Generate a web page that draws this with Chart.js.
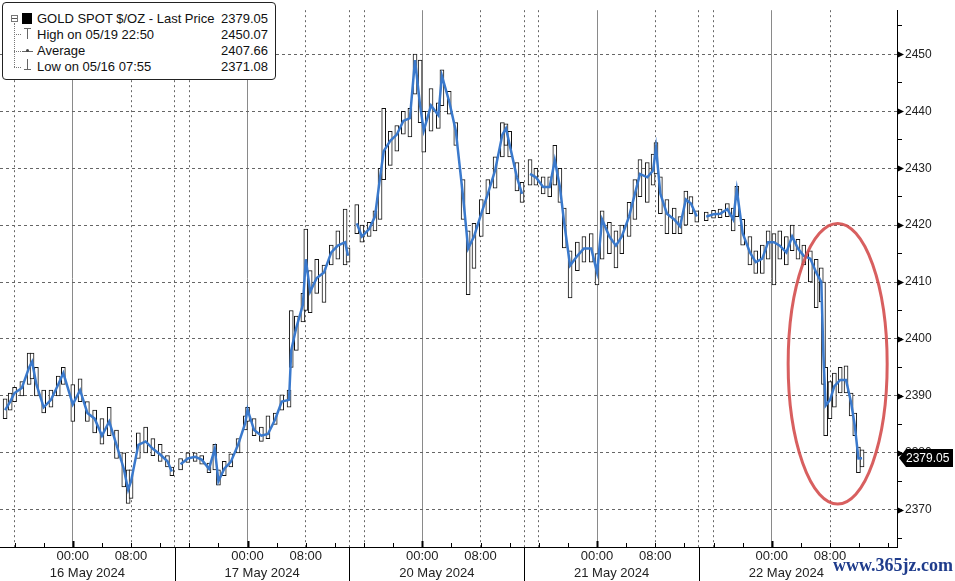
<!DOCTYPE html>
<html lang="en">
<head>
    <meta charset="UTF-8">
    <title>GOLD SPOT $/OZ</title>
    <script src="https://cdn.jsdelivr.net/npm/chart.js"></script>
    <style>
        body { margin: 0; background: #fff; }
        #wrap { position: relative; width: 955px; height: 581px; }
        canvas { display: block; }
        .legend {
            position: absolute; left: 2px; top: 2px; width: 272px; height: 76px;
            border: 1px solid #222; border-radius: 4px; background: #fff;
            font: 13px "Liberation Sans", Arial, sans-serif; color: #111;
        }
        .legend .row { position: absolute; left: 34px; right: 7px; height: 16px; line-height: 16px; }
        .legend .row span { float: right; }
        .legend .abs { position: absolute; }
        .mark {
            position: absolute; left: 833px; top: 555px;
            font: bold 18px "Liberation Serif", serif; color: #1f3c8c;
        }
    </style>
</head>
<body>
<div id="wrap">
    <canvas id="goldChart" width="955" height="581"></canvas>
    <div class="legend">
        <div class="abs" style="left:8px;top:12px;width:5px;height:5px;border:1px solid #777;"></div>
        <div class="abs" style="left:9px;top:15px;width:5px;height:1px;background:#555;"></div>
        <div class="abs" style="left:19px;top:10px;width:10px;height:11px;background:#000;"></div>
        <div class="abs" style="left:11px;top:20px;width:0;height:44px;border-left:1px dotted #777;"></div>
        <div class="abs" style="left:11px;top:31px;width:7px;border-top:1px dotted #777;"></div>
        <div class="abs" style="left:11px;top:48px;width:7px;border-top:1px dotted #777;"></div>
        <div class="abs" style="left:11px;top:64px;width:7px;border-top:1px dotted #777;"></div>
        <div class="abs" style="left:21px;top:25px;width:7px;height:1px;background:#666;"></div>
        <div class="abs" style="left:24px;top:25px;width:1px;height:11px;background:#666;"></div>
        <div class="abs" style="left:19px;top:48px;width:11px;height:1px;background:#666;"></div>
        <div class="abs" style="left:23px;top:46px;width:3px;height:3px;border-radius:2px;background:#444;"></div>
        <div class="abs" style="left:24px;top:56px;width:1px;height:11px;background:#666;"></div>
        <div class="abs" style="left:21px;top:66px;width:7px;height:1px;background:#666;"></div>
        <div class="row" style="top:8px">GOLD SPOT $/OZ - Last Price<span>2379.05</span></div>
        <div class="row" style="top:24px">High on 05/19 22:50<span>2450.07</span></div>
        <div class="row" style="top:40px">Average<span>2407.66</span></div>
        <div class="row" style="top:56px">Low on 05/16 07:55<span>2371.08</span></div>
    </div>
    <div class="mark">www.365jz.com</div>
</div>
<script>
    /* hours counted from the start of the 16 May session */
    const hours = [
        0.7, 1.4, 2, 3, 4, 4.4, 5, 6, 7, 8, 8.7, 10, 11, 12, 13, 14, 15, 16, 17, 17.6, 18, 19, 20, 21, 22, 23, 23.6,
        24.8, 25.8, 26.8, 27.7, 28.7, 29.5, 30, 30.8, 31.7, 32.7, 33.7, 34, 34.9, 35.9, 36.8, 37.8, 38.7, 39.7, 40, 40.7, 41.6, 42, 42.6, 43.5, 44.5, 45.5, 46.4, 47.4, 47.8,
        49, 49.7, 50.7, 51.5, 52.2, 52.7, 53.6, 54.5, 55.4, 56.3, 57, 57.7, 58.2, 59.2, 60.2, 60.7, 61.7, 62.6, 63.6, 64.3, 65.1, 66.1, 67, 68, 69, 69.5, 70, 71, 71.7,
        72.8, 73.6, 74.6, 75.5, 76.2, 76.9, 77.5, 78.3, 79.3, 80.2, 81.2, 82, 82.7, 83.7, 84.6, 85.4, 86.4, 87.2, 87.9, 88.9, 89.7, 90.1, 90.7, 91.6, 92.6, 93.4, 94.2, 94.9, 95.7,
        97, 98, 98.9, 99.9, 100.7, 101.2, 102, 103, 103.8, 104.7, 105.5, 106.3, 107.1, 108, 108.8, 109.6, 110.4, 111.3, 112.1, 112.8, 113.1, 113.4, 114, 114.6, 115.4, 116.2, 116.9, 117.4, 117.9, 118.4
    ];
    const closes = [
        2387.5, 2389, 2390.5, 2391.4, 2395, 2396, 2392, 2388, 2389.3, 2392, 2394, 2388.5, 2391, 2387, 2386, 2383, 2385.5, 2381.4, 2377.2, 2373.5, 2375, 2381.4, 2382, 2380.7, 2379.7, 2378.5, 2376.7,
        2378, 2379, 2379.3, 2378.8, 2377.2, 2380.7, 2375, 2377.2, 2378.4, 2381.4, 2385.3, 2387.6, 2384, 2383, 2383.3, 2385.9, 2389, 2389.3, 2398, 2402, 2406, 2414, 2408.3, 2410.7, 2411.7, 2415.2, 2416.4, 2417, 2414.6,
        2420.3, 2418, 2419.3, 2421.5, 2428.4, 2433, 2434.8, 2435.9, 2438.3, 2438.8, 2449, 2441, 2436.6, 2441, 2439.3, 2446.2, 2441.7, 2436.6, 2425, 2415.9, 2418, 2422, 2425.5, 2429.6, 2435.9, 2437, 2434.1, 2428.4, 2425.5,
        2429, 2428.4, 2426.7, 2426.7, 2431.4, 2426.7, 2420.3, 2412.9, 2414.6, 2415.9, 2415.9, 2411.7, 2421, 2418, 2416.4, 2418, 2421.5, 2425.5, 2429, 2428.4, 2429.6, 2433.6, 2425.5, 2422, 2421, 2419.8, 2424.5, 2423.8, 2421.5,
        2421.5, 2421.9, 2422, 2422.8, 2421, 2426.2, 2418.6, 2415.2, 2413.5, 2414.1, 2417, 2417, 2416.4, 2415.2, 2418, 2415.9, 2414.6, 2414.1, 2411.7, 2410, 2397, 2388.3, 2389.3, 2391.7, 2392.8, 2392.8, 2388.8, 2384.8, 2379, 2379.05
    ];
    const lows = [
        2386, 2387.5, 2389, 2390, 2392, 2393, 2390, 2387, 2388, 2390, 2392, 2385.5, 2389, 2385.5, 2383.5, 2381.5, 2383, 2379, 2374, 2371.1, 2372, 2379, 2380, 2379.5, 2378.5, 2377.5, 2376,
        2377, 2378.3, 2378.5, 2378, 2376.5, 2377, 2374.3, 2376, 2377.5, 2380, 2384, 2385.5, 2383, 2382, 2382.5, 2385, 2387.5, 2388, 2395, 2398, 2403, 2405, 2404.6, 2408, 2406.4, 2413, 2414, 2413, 2413.5,
        2418.5, 2417, 2418, 2419, 2421, 2428, 2430.5, 2433, 2436, 2435.5, 2443, 2438, 2432.8, 2436.5, 2437, 2441, 2439.5, 2434, 2421, 2407.8, 2412.4, 2418, 2422, 2426.5, 2432, 2434, 2432, 2426, 2424,
        2427, 2427, 2425.5, 2425, 2427, 2424, 2416, 2407.2, 2412, 2413.5, 2413.5, 2409.5, 2414, 2415, 2412.5, 2415, 2418, 2421, 2425, 2424, 2427, 2429, 2422, 2418.5, 2418.5, 2418.5, 2420, 2422, 2420.5,
        2420.8, 2421.2, 2421.3, 2421.5, 2419, 2421.5, 2416.5, 2413, 2411.5, 2411.5, 2414, 2409.5, 2414, 2413, 2415.5, 2414, 2413, 2410, 2405.5, 2406.5, 2392, 2383, 2386, 2388, 2390.5, 2390.5, 2386.5, 2383, 2376.5, 2377.5
    ];
    const highs = [
        2389.5, 2390.5, 2391.5, 2392.5, 2397.5, 2397.5, 2395, 2391, 2391, 2393.5, 2395, 2392, 2393, 2389, 2387.5, 2386, 2388, 2384, 2380, 2377, 2377, 2383.5, 2384.5, 2382.5, 2381.5, 2379.5, 2377.5,
        2379, 2380, 2380, 2379.5, 2378.2, 2381.5, 2377, 2378.5, 2379.8, 2382.5, 2386.5, 2388, 2386, 2384.5, 2386.5, 2387, 2390.2, 2391, 2405, 2404, 2408, 2419.3, 2412, 2414, 2413, 2416.5, 2419, 2422.8, 2416,
        2423.6, 2420, 2420.5, 2422.5, 2430, 2440.5, 2436.5, 2437.5, 2440, 2440.5, 2450.07, 2449, 2440, 2444, 2441.5, 2447.3, 2443.5, 2438, 2428, 2419, 2420.3, 2424.5, 2428, 2432, 2438, 2437.8, 2436.5, 2431, 2427.5,
        2431.5, 2430, 2428.5, 2428.5, 2434, 2430, 2423, 2415.5, 2417, 2418, 2418.5, 2415, 2422.5, 2420.5, 2419, 2420, 2424, 2428, 2431.5, 2431, 2432.5, 2434.5, 2428.5, 2424.5, 2423, 2421.5, 2426, 2425, 2422.5,
        2422.3, 2422.6, 2422.8, 2423.8, 2423, 2426.8, 2421, 2418, 2415.5, 2416.5, 2419, 2418.5, 2419, 2418, 2420, 2417.5, 2416.5, 2415.5, 2414, 2412.5, 2410, 2395, 2392.5, 2394, 2395, 2395.3, 2390.5, 2387, 2381, 2380.5
    ];
    const sessionBreaks = [24, 48, 72, 96];
    const timeTickHours = [10, 18, 34, 42, 58, 66, 82, 90, 106, 114];
    const timeTickLabels = ['00:00', '08:00', '00:00', '08:00', '00:00', '08:00', '00:00', '08:00', '00:00', '08:00'];
    const dayLabelHours = [12, 36, 60, 84, 108];
    const dayLabels = ['16 May 2024', '17 May 2024', '20 May 2024', '21 May 2024', '22 May 2024'];
    const dottedHours = [2, 18, 24, 26, 42, 48, 50, 66, 72, 74, 90, 96, 98, 114];
    const midnightHours = [10, 34, 58, 82, 106];
    const priceTicks = [2365, 2370, 2375, 2380, 2385, 2390, 2395, 2400, 2405, 2410, 2415, 2420, 2425, 2430, 2435, 2440, 2445, 2450, 2455];
    const lastPrice = 2379.05;
    const circleFrom = { hour: 108.25, price: 2420.3 };
    const circleTo = { hour: 121.85, price: 2371 };

    const X_MAX = 123.2, Y_MIN = 2363.45, Y_MAX = 2457.76;
    const FONT = '"Liberation Sans", Arial, sans-serif';

    /* close line, broken between sessions */
    const lineData = [];
    hours.forEach((h, i) => {
        lineData.push({ x: h, y: closes[i] });
        const next = hours[i + 1];
        sessionBreaks.forEach(b => { if (next !== undefined && h < b && next > b) lineData.push({ x: b, y: null }); });
    });
    const rangeData = hours.map((h, i) => ({ x: h, y: [lows[i], highs[i]] }));

    const setTicks = list => scale => { scale.ticks = list.map(v => ({ value: v })); };
    const gridAxis = (list, color, dash, weight) => ({
        type: 'linear', min: 0, max: X_MAX, position: 'bottom', weight: weight, offset: false,
        afterBuildTicks: setTicks(list),
        afterFit: s => { s.height = 0; },
        ticks: { display: false },
        grid: { color: color, lineWidth: 1, drawTicks: false, offset: false },
        border: { display: false, dash: dash }
    });

    const decor = {
        id: 'decor',
        afterDraw(chart) {
            const { ctx, chartArea: a, scales: { x, y } } = chart;
            ctx.save();
            ctx.strokeStyle = '#000';
            // small marks on the time axis
            for (let h = 2; h < X_MAX; h += 4) {
                const px = Math.round(x.getPixelForValue(h)) + 0.5;
                const major = midnightHours.includes(h);
                ctx.lineWidth = major ? 2 : 1;
                ctx.beginPath();
                ctx.moveTo(px, a.bottom);
                ctx.lineTo(px, a.bottom - (major ? 6 : 4));
                ctx.stroke();
            }
            // session separators below the axis
            ctx.lineWidth = 1;
            sessionBreaks.forEach(h => {
                const px = Math.round(x.getPixelForValue(h)) + 0.5;
                ctx.beginPath();
                ctx.moveTo(px, a.bottom);
                ctx.lineTo(px, chart.height);
                ctx.stroke();
            });
            // arrows on the price axis
            ctx.fillStyle = '#000';
            priceTicks.filter(v => v % 10 === 0).forEach(v => {
                const py = Math.round(y.getPixelForValue(v)) + 0.5;
                ctx.beginPath();
                ctx.moveTo(a.right, py - 3.5);
                ctx.lineTo(a.right + 7, py);
                ctx.lineTo(a.right, py + 3.5);
                ctx.closePath();
                ctx.fill();
            });
            // red circle
            const x1 = x.getPixelForValue(circleFrom.hour), x2 = x.getPixelForValue(circleTo.hour);
            const y1 = y.getPixelForValue(circleFrom.price), y2 = y.getPixelForValue(circleTo.price);
            ctx.strokeStyle = 'rgba(212, 78, 78, 0.9)';
            ctx.lineWidth = 3;
            ctx.beginPath();
            ctx.ellipse((x1 + x2) / 2, (y1 + y2) / 2, (x2 - x1) / 2, (y2 - y1) / 2, 0, 0, Math.PI * 2);
            ctx.stroke();
            // last price tag
            const ty = Math.round(y.getPixelForValue(lastPrice));
            const left = a.right + 2;
            ctx.fillStyle = '#000';
            ctx.beginPath();
            ctx.moveTo(left, ty);
            ctx.lineTo(left + 7, ty - 9);
            ctx.lineTo(chart.width - 2, ty - 9);
            ctx.lineTo(chart.width - 2, ty + 9);
            ctx.lineTo(left + 7, ty + 9);
            ctx.closePath();
            ctx.fill();
            ctx.fillStyle = '#fff';
            ctx.font = '12px ' + FONT;
            ctx.textAlign = 'left';
            ctx.textBaseline = 'middle';
            ctx.fillText(lastPrice.toFixed(2), left + 7, ty + 1);
            ctx.restore();
        }
    };

    new Chart(document.getElementById('goldChart'), {
        type: 'bar',
        data: {
            datasets: [{
                type: 'line',
                data: lineData,
                borderColor: '#3a79cc',
                borderWidth: 2.5,
                pointRadius: 0,
                spanGaps: false,
                tension: 0,
                order: 1
            }, {
                type: 'bar',
                data: rangeData,
                backgroundColor: '#fff',
                borderColor: '#111',
                borderWidth: 1,
                borderSkipped: false,
                barThickness: 4,
                grouped: false,
                order: 2
            }]
        },
        options: {
            responsive: false,
            animation: false,
            layout: { padding: 0 },
            plugins: { legend: { display: false }, tooltip: { enabled: false } },
            scales: {
                x: {
                    type: 'linear', min: 0, max: X_MAX, position: 'bottom', weight: 0, offset: false,
                    afterBuildTicks: setTicks(timeTickHours),
                    afterFit: s => { s.height = 18; },
                    ticks: {
                        autoSkip: false, maxRotation: 0, padding: 2, color: '#222',
                        font: { family: FONT, size: 13 },
                        callback: v => timeTickLabels[timeTickHours.indexOf(v)]
                    },
                    grid: { drawOnChartArea: false, drawTicks: false },
                    border: { display: true, color: '#000', width: 1 }
                },
                xDate: {
                    type: 'linear', min: 0, max: X_MAX, position: 'bottom', weight: 1, offset: false,
                    afterBuildTicks: setTicks(dayLabelHours),
                    afterFit: s => { s.height = 16; },
                    ticks: {
                        autoSkip: false, maxRotation: 0, padding: 1, color: '#222',
                        font: { family: FONT, size: 13 },
                        callback: v => dayLabels[dayLabelHours.indexOf(v)]
                    },
                    grid: { display: false, drawTicks: false },
                    border: { display: false }
                },
                xDot: gridAxis(dottedHours, '#666', [2, 3], 2),
                xSolid: gridAxis(midnightHours, '#8a8a8a', [], 3),
                y: {
                    type: 'linear', position: 'right', min: Y_MIN, max: Y_MAX,
                    afterBuildTicks: setTicks(priceTicks),
                    afterFit: s => { s.width = 58; },
                    ticks: {
                        padding: 3, color: '#222',
                        font: { family: FONT, size: 12 },
                        callback: v => (v % 10 === 0 ? String(v) : '')
                    },
                    grid: {
                        color: c => (c.tick && c.tick.value % 10 === 0 ? '#666' : 'transparent'),
                        tickColor: '#000', tickLength: 5, tickBorderDash: []
                    },
                    border: { display: true, color: '#000', width: 1, dash: [3, 3] }
                }
            }
        },
        plugins: [decor]
    });
</script>
</body>
</html>
